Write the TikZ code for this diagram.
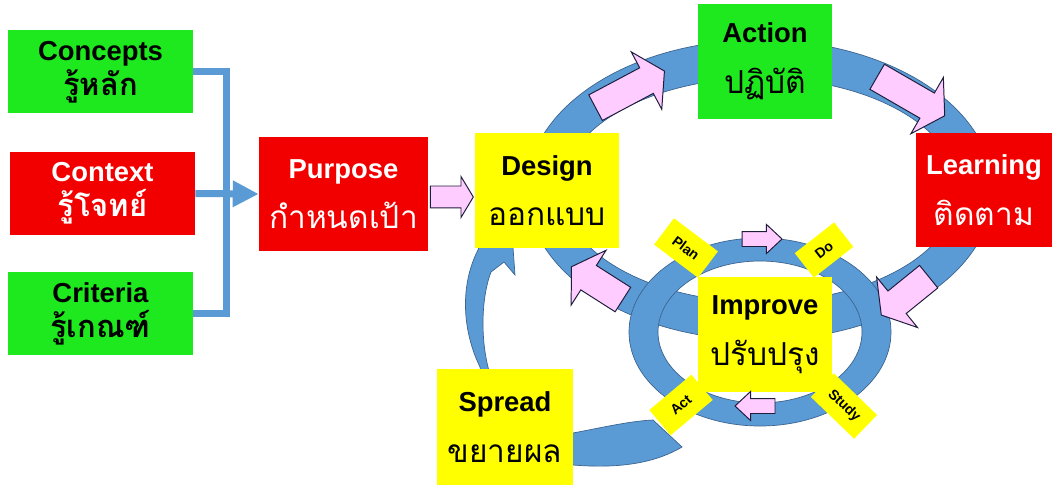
\documentclass[tikz,border=0pt]{standalone}
\usepackage{fontspec}
\setmainfont{Liberation Sans}
\newfontfamily\thai[Script=Thai]{Loma}
\usetikzlibrary{positioning, arrows.meta, shapes.arrows}

\definecolor{boxgreen}{RGB}{30,232,30}
\definecolor{boxred}{RGB}{242,0,0}
\definecolor{boxyellow}{RGB}{255,255,0}
\definecolor{ringblue}{RGB}{91,155,213}
\definecolor{ringedge}{RGB}{60,100,145}
\definecolor{arrowpink}{RGB}{255,204,255}
\definecolor{arrowedge}{RGB}{30,30,60}

\newcommand{\pxl}{0.025cm}
% thai lines: bold on the left cards, medium on the others
\newcommand{\thbold}[1]{{\thai\fontsize{22}{25}\selectfont #1}}
\newcommand{\thline}[1]{{\thai\mdseries\fontsize{22.5}{36}\selectfont #1}}

\tikzset{
  card/.style={inner sep=0pt, align=center, font=\bfseries\fontsize{19.5}{36}\selectfont},
  leftcard/.style={card, minimum width=185*\pxl, minimum height=83*\pxl,
    font=\bfseries\fontsize{19.5}{25}\selectfont},
  bigcard/.style={card, minimum width=136*\pxl, minimum height=115*\pxl},
  tag/.style={fill=boxyellow, inner sep=0pt, minimum width=55*\pxl, minimum height=33*\pxl,
    font=\bfseries\fontsize{10}{12}\selectfont},
  ring/.style={fill=ringblue, draw=ringedge, line width=0.5pt},
  feed/.style={draw=ringblue, line width=7*\pxl},
  parrow/.style={single arrow, draw=arrowedge, fill=arrowpink, line width=0.7pt,
    inner xsep=0pt, text height=0pt, text depth=0pt},
  bigarrow/.style={parrow, inner ysep=14*\pxl, single arrow head extend=18*\pxl,
    single arrow tip angle=116},
  smallarrow/.style={parrow, inner ysep=7*\pxl, single arrow head extend=7*\pxl,
    single arrow tip angle=86, minimum height=40*\pxl}
}

\begin{document}
\begin{tikzpicture}[x=\pxl, y=-\pxl]
  \useasboundingbox (0,0) rectangle (1052,485);
  \fill[white] (0,0) rectangle (1052,485);

  % rings
  \path[ring, even odd rule] (760,190) ellipse [x radius=233, y radius=150]
    (760,190) ellipse [x radius=198, y radius=112];
  \path[ring, even odd rule] (760,332) ellipse [x radius=131, y radius=94]
    (760,332) ellipse [x radius=102, y radius=71];
  % spread arc
  \path[ring] (682,447) .. controls (650,466) and (610,468) .. (573,465)
    .. controls (520,460) and (490,420) .. (480,367)
    .. controls (462,330) and (460,285) .. (478,250)
    -- (482,238) -- (512,234) -- (515,275) -- (504,262) -- (491,272)
    .. controls (482,295) and (480,335) .. (488,367)
    .. controls (500,420) and (530,436) .. (573,433)
    .. controls (600,428) and (630,421) .. (653,420) -- cycle;

  \node[leftcard, fill=boxgreen] (concepts) at (100.5,72) {Concepts\\\thbold{รู้หลัก}};
  \node[leftcard, fill=boxred, text=white] (context) at (102.5,193.5) {Context\\\thbold{รู้โจทย์}};
  \node[leftcard, fill=boxgreen] (criteria) at (100.5,313.5) {Criteria\\\thbold{รู้เกณฑ์}};
  \node[card, fill=boxred, text=white, minimum width=169*\pxl, minimum height=114*\pxl]
    (purpose) at (343.5,194) {Purpose\\\thline{กำหนดเป้า}};
  \node[bigcard, fill=boxyellow, minimum width=144*\pxl] (design) at (547,190.5) {Design\\\thline{ออกแบบ}};
  \node[bigcard, fill=boxgreen, minimum width=134*\pxl] (action) at (765,61.5) {Action\\\thline{ปฏิบัติ}};
  \node[bigcard, fill=boxred, text=white, minimum height=114*\pxl] (learning) at (984,190) {Learning\\\thline{ติดตาม}};
  \node[bigcard, fill=boxyellow, minimum width=134*\pxl] (improve) at (765,334.5) {Improve\\\thline{ปรับปรุง}};
  \node[bigcard, fill=boxyellow, minimum height=116*\pxl] (spread) at (505,427) {Spread\\\thline{ขยายผล}};

  \node[tag, rotate=-37] (plan) at (686,248) {Plan};
  \node[tag, rotate=38, minimum width=50*\pxl, minimum height=31*\pxl] (do) at (824,250) {Do};
  \node[tag, rotate=40] (act) at (681,405) {Act};
  \node[tag, rotate=-44, minimum width=60*\pxl] (study) at (844,406) {Study};

  % feeding lines
  \coordinate (spine) at (226,193.5);
  \draw[feed] (concepts.east) -| (spine) |- (criteria.east);
  \draw[feed, -{Triangle[length=26*\pxl, width=25*\pxl]}] (context.east) -- (purpose.west);

  % pink arrows
  \node[parrow, inner ysep=10.5*\pxl, single arrow head extend=9.5*\pxl,
    single arrow tip angle=118, minimum height=43*\pxl] (p2d) at (448.5,197) {};
  \node[bigarrow, minimum height=78*\pxl, rotate=28] (d2a) at (626,91.5) {};
  \node[bigarrow, minimum height=78*\pxl, rotate=-30] (a2l) at (907,94) {};
  \node[bigarrow, minimum height=61*\pxl, rotate=219] (l2i) at (908.5,293) {};
  \node[bigarrow, minimum height=61*\pxl, rotate=147.5] (i2d) at (601,285.6) {};
  \node[smallarrow] (p2do) at (758,239) {};
  \node[smallarrow, rotate=180] (s2a) at (759,406) {};
\end{tikzpicture}
\end{document}
